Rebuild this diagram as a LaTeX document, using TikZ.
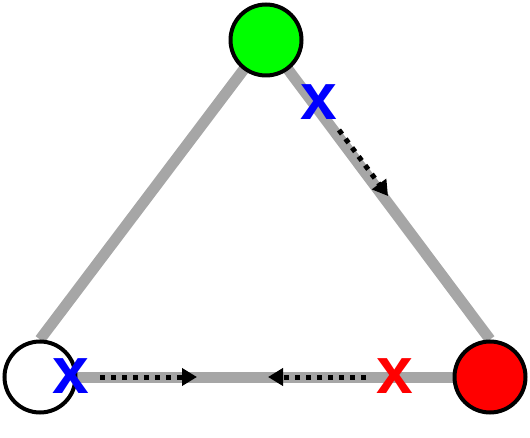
\documentclass[tikz,border=0pt]{standalone}
\usepackage{fontspec}
\setmainfont{Liberation Sans}
\usetikzlibrary{arrows.meta,backgrounds}
\definecolor{edgegray}{HTML}{A6A6A6}
\definecolor{vgreen}{HTML}{00FF00}
\definecolor{vred}{HTML}{FF0000}
\definecolor{lblue}{HTML}{0000FF}
\begin{document}
\begin{tikzpicture}[x=1pt,y=-1pt,
  edge/.style={draw=edgegray, line width=11pt},
  vert/.style={circle, draw=black, line width=4pt, minimum size=71pt, inner sep=0pt},
  flow/.style={line width=5pt, dash pattern=on 5pt off 6pt, -{Triangle[length=15pt,width=17pt]}},
  crosslbl/.style={font=\fontsize{66}{66}\selectfont\bfseries, inner sep=0pt}]
\useasboundingbox (0,0) rectangle (530,438);
\node[vert, fill=vgreen] (g) at (266,40) {};
\node[vert, fill=white] (w) at (40,377) {};
\node[vert, fill=vred] (r) at (490,377) {};
\begin{pgfonlayer}{background}
  \draw[edge] (w.north) -- (g.center) -- (r.north);
  \draw[edge] (w.center) -- (r.center);
\end{pgfonlayer}
\coordinate (a1) at (339,130);
\coordinate (a1e) at (388,196);
\coordinate (b1) at (100,377);
\coordinate (b1e) at (197,377);
\coordinate (c1) at (366,377);
\coordinate (c1e) at (268,377);
\draw[flow] (a1) -- (a1e);
\draw[flow] (b1) -- (b1e);
\draw[flow] (c1) -- (c1e);
\node[crosslbl, text=lblue] (xg) at (319,102) {x};
\node[crosslbl, text=lblue] (xw) at (71,376) {x};
\node[crosslbl, text=vred] (xr) at (395,376) {x};
\end{tikzpicture}
\end{document}
